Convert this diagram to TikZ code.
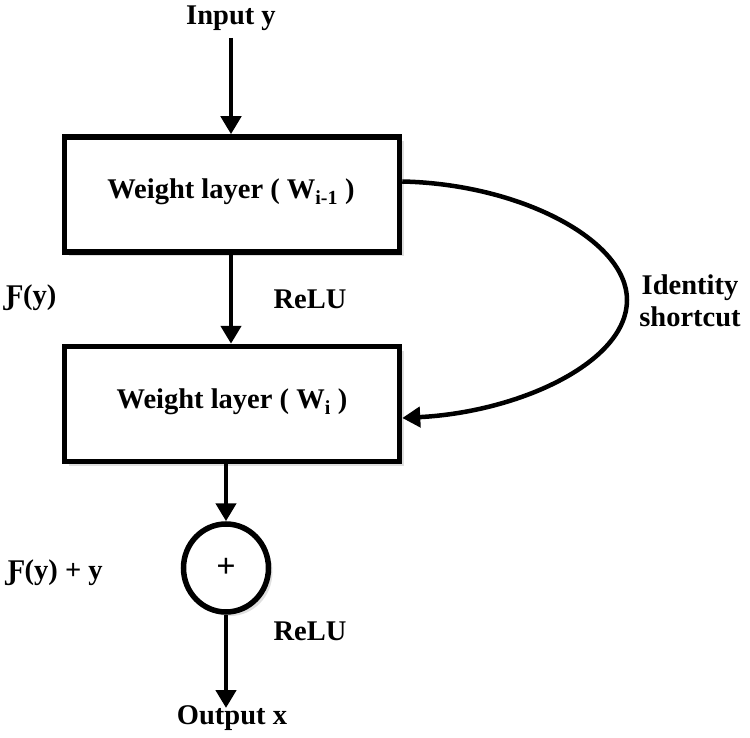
\documentclass[tikz,border=0pt]{standalone}
\usepackage{fontspec}
\setmainfont{Liberation Serif}
\usetikzlibrary{arrows.meta,calc,shadows,shapes.geometric}
\begin{document}
\begin{tikzpicture}[x=1pt,y=-1pt,
  lbl/.style={font=\fontsize{28.5}{32}\selectfont\bfseries, inner sep=0pt},
  wbox/.style={draw, line width=5.5pt, fill=white, minimum width=335pt, minimum height=115pt, inner sep=0pt,
     drop shadow={shadow xshift=4pt, shadow yshift=-4pt, opacity=0.25}},
  sumnode/.style={draw, ellipse, line width=5.5pt, fill=white, minimum width=85pt, minimum height=88pt, inner sep=0pt,
     drop shadow={shadow xshift=4pt, shadow yshift=-4pt, opacity=0.25}},
  conn/.style={line width=4.5pt, -{Triangle[length=18pt,width=20pt]}}
]
\useasboundingbox (0,0) rectangle (750,738);
\node[lbl] (in) at (231,18) {Input y};
\node[wbox] (b1) at (232,194.5) {};
\node[lbl] at (231,192) {Weight layer ( W\textsubscript{i-1} )};
\node[wbox] (b2) at (232,404) {};
\node[lbl] at (232,402) {Weight layer ( W\textsubscript{i} )};
\node[sumnode] (s) at (226,568) {};
\node[font=\fontsize{34}{36}\selectfont\bfseries, inner sep=0pt] at (226,568) {+};
\node[lbl] (out) at (232,718) {Output x};
\node[lbl] (f1) at (31,298) {Ƒ(y)};
\node[lbl] (r1) at (310,299) {ReLU};
\node[lbl] (f2) at (55,573) {Ƒ(y) + y};
\node[lbl] (r2) at (310,631) {ReLU};
\node[lbl, align=center] (id) at (690,301) {Identity\\shortcut};
\coordinate (top) at (231,38);
\coordinate (bot) at (226,708);
\draw[conn] (top) -- (b1.north -| top);
\draw[conn] (b1.south -| top) -- (b2.north -| top);
\draw[conn] (b2.south -| s) -- (s.north);
\draw[conn] (s.south) -- (bot);
\draw[conn] ($(b1.east)+(0,-13)$) .. controls (520,184) and (627,240) .. (627,300)
   .. controls (627,362) and (520,412) .. ($(b2.east)+(0,14)$);
\end{tikzpicture}
\end{document}
